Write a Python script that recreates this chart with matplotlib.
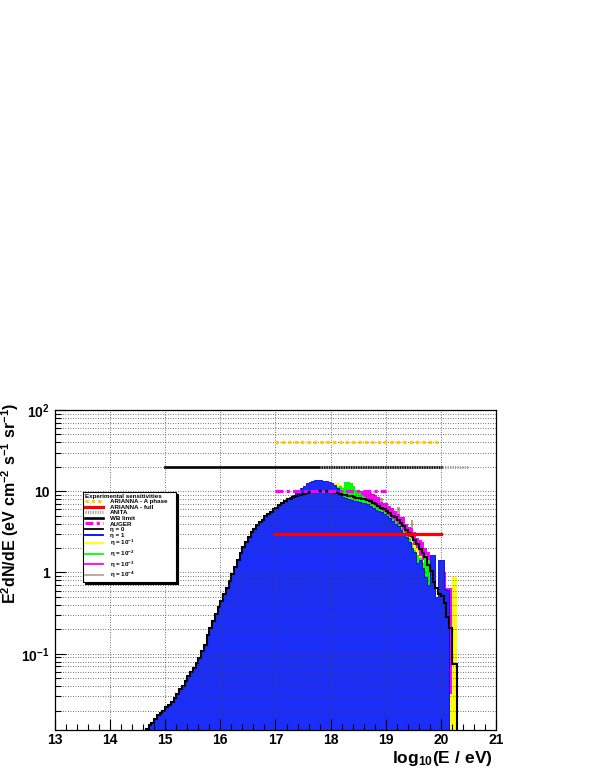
import numpy as np
import matplotlib.pyplot as plt
from matplotlib.lines import Line2D
from matplotlib.ticker import MultipleLocator, FixedLocator, LogLocator, NullFormatter

plt.rcParams['font.family'] = ['Liberation Sans', 'DejaVu Sans']
plt.rcParams['font.weight'] = 'bold'
plt.rcParams['mathtext.fontset'] = 'custom'
plt.rcParams['mathtext.rm'] = 'Liberation Sans:bold'
plt.rcParams['mathtext.bf'] = 'Liberation Sans:bold'
plt.rcParams['mathtext.it'] = 'Liberation Sans:bold'
plt.rcParams['mathtext.default'] = 'bf'

# histogram bins: width 0.05 in log10(E/eV)
bin_w = 0.05

# log10(E^2 dN/dE) per bin
# eta = 1 (blue), bins start at 14.65
eta1_start = 14.65
eta1_log = [
    -1.93, -1.88, -1.85, -1.80, -1.76, -1.73, -1.70, -1.66, -1.63, -1.59,
    -1.54, -1.49, -1.44, -1.40, -1.34, -1.28, -1.23, -1.18, -1.11, -1.05,
    -0.97, -0.89, -0.77, -0.68, -0.60, -0.51, -0.42, -0.35, -0.26, -0.19,
    -0.10, -0.02, 0.07, 0.15, 0.24, 0.31, 0.38, 0.44, 0.50, 0.54,
    0.58, 0.62, 0.65, 0.69, 0.72, 0.75, 0.78, 0.80, 0.83, 0.85,
    0.88, 0.90, 0.93, 0.96, 0.99, 1.01, 1.04, 1.07, 1.10, 1.12,
    1.13, 1.14, 1.14, 1.14, 1.13, 1.13, 1.12, 1.10, 1.08, 1.04,
    0.96, 0.93, 0.92, 0.90, 0.89, 0.88, 0.88, 0.87, 0.86, 0.85,
    0.84, 0.82, 0.80, 0.77, 0.76, 0.74, 0.72, 0.70, 0.67, 0.63,
    0.60, 0.57, 0.52, 0.47, 0.44, 0.38, 0.30, 0.25, 0.12, 0.15,
    0.05, -0.05, -0.15, 0.21, 0.21, -0.30, 0.15, 0.15, -0.20, -0.22,
]

# eta = 0 (black line), bins start at 14.65
eta0_start = 14.65
eta0_log = [
    -1.93, -1.88, -1.85, -1.80, -1.76, -1.73, -1.70, -1.66, -1.63, -1.59,
    -1.54, -1.49, -1.44, -1.40, -1.34, -1.28, -1.23, -1.18, -1.11, -1.05,
    -0.97, -0.89, -0.77, -0.68, -0.60, -0.51, -0.42, -0.35, -0.26, -0.19,
    -0.10, -0.02, 0.07, 0.15, 0.24, 0.31, 0.38, 0.44, 0.50, 0.54,
    0.58, 0.62, 0.65, 0.69, 0.72, 0.75, 0.78, 0.80, 0.83, 0.85,
    0.88, 0.90, 0.91, 0.93, 0.94, 0.95, 0.96, 0.97, 0.98, 0.99,
    0.99, 1.00, 1.00, 1.00, 1.00, 1.00, 0.99, 0.99, 0.98, 0.98,
    0.97, 0.96, 0.95, 0.94, 0.94, 0.93, 0.92, 0.92, 0.91, 0.90,
    0.89, 0.88, 0.86, 0.84, 0.82, 0.80, 0.78, 0.76, 0.73, 0.70,
    0.68, 0.65, 0.61, 0.57, 0.52, 0.49, 0.45, 0.40, 0.35, 0.29,
    0.24, 0.19, 0.09, 0.02, -0.12, -0.19, -0.26, -0.29, -0.38, -0.55,
    -0.68, -1.13, -1.13,
]

# eta = 1e-1 (yellow), bins start at 17.5
eta_m1_start = 17.5
eta_m1_log = [
    0.96, 0.97, 0.98,
    0.99, 1.00, 1.01, 1.02, 1.03, 1.05, 1.07, 1.09, 1.10, 1.10,
    1.08, 1.05, 1.02, 0.99, 0.96, 0.94, 0.92, 0.91, 0.90, 0.88,
    0.86, 0.85, 0.83, 0.81, 0.79, 0.76, 0.74, 0.72, 0.69, 0.66,
    0.63, 0.60, 0.56, 0.52, 0.48, 0.44, 0.42, 0.34, 0.30, 0.20,
    0.15, 0.00, -0.10, -0.20, -0.30, -0.30, -0.35, -0.40, -0.50, -0.60,
    -1.50, -0.06, -0.06,
]

# eta = 1e-2 (green), bins start at 17.5
eta_m2_start = 17.5
eta_m2_log = [
    0.95, 0.96, 0.97,
    0.98, 0.99, 1.00, 1.01, 1.02, 1.03, 1.04, 1.05, 1.05, 1.05,
    1.07, 1.04, 1.11, 1.12, 1.10, 1.06, 1.02, 0.99, 0.96, 0.93,
    0.90, 0.86, 0.84, 0.81, 0.79, 0.77, 0.74, 0.72, 0.69, 0.66,
    0.63, 0.60, 0.55, 0.51, 0.47, 0.43, 0.36, 0.28, 0.22, 0.18,
    0.12, 0.22, 0.15, -0.05, -0.20, -0.30, -0.30, -0.40, -0.60, -0.80,
]

# eta = 1e-3 (magenta), bins start at 17.5
eta_m3_start = 17.5
eta_m3_log = [
    0.94, 0.95, 0.96,
    0.97, 0.98, 0.99, 1.00, 1.01, 1.02, 1.03, 1.04, 1.05, 1.06,
    1.06, 1.05, 1.04, 1.03, 1.02, 1.01, 1.01, 1.00, 1.00, 0.99,
    0.99, 0.98, 0.97, 0.95, 0.93, 0.87, 0.86, 0.85, 0.82, 0.79,
    0.76, 0.72, 0.68, 0.68, 0.60, 0.56, 0.55, 0.50, 0.42, 0.40,
    0.38, 0.30, 0.25, 0.00, -0.30, -0.40, -0.30, 0.00, 0.00, -0.19,
    -0.19,
]

# eta = 1e-4 (tan), bins start at 17.5
eta_m4_start = 17.5
eta_m4_log = [
    0.93, 0.94, 0.95,
    0.96, 0.97, 0.98, 0.99, 1.00, 1.00, 1.00, 1.00, 1.00, 1.00,
    1.00, 0.99, 0.99, 0.98, 0.97, 0.96, 0.96, 0.95, 0.94, 0.93,
    0.92, 0.91, 0.90, 0.89, 0.88, 0.92, 0.86, 0.84, 0.80, 0.76,
    0.74, 0.81, 0.62, 0.58, 0.55, 0.50, 0.65, 0.35, 0.30, 0.25,
    0.20, 0.10, 0.00, -0.10, -0.20, -0.30, -0.40, -0.50,
]

# experimental sensitivities (x range in log10(E/eV), level)
arianna_a_x = [17.0, 20.0]
arianna_a_y = [40.0, 40.0]
arianna_full_x = [17.0, 20.0]
arianna_full_y = [3.0, 3.0]
anita_x = [17.8, 20.5]
anita_y = [20.0, 20.0]
wb_x = [15.0, 20.0]
wb_y = [20.0, 20.0]
auger_x = [17.0, 19.0]
auger_y = [10.0, 10.0]

c_yellow = '#ffff00'
c_green = '#00ff00'
c_magenta = '#ff00ff'
c_tan = '#b4a596'
c_blue = '#1a2ef8'


def edges(start, n):
    return start + bin_w * np.arange(n + 1)


fig = plt.figure(figsize=(5.95, 7.7), dpi=100)
ax = fig.add_axes([0.0924, 0.0519, 0.7412, 0.4156])

base = 1e-4
ax.stairs(10 ** np.array(eta_m4_log), edges(eta_m4_start, len(eta_m4_log)),
          fill=True, baseline=base, color=c_tan, zorder=1.0)
ax.stairs(10 ** np.array(eta_m3_log), edges(eta_m3_start, len(eta_m3_log)),
          fill=True, baseline=base, color=c_magenta, zorder=1.1)
ax.stairs(10 ** np.array(eta_m1_log), edges(eta_m1_start, len(eta_m1_log)),
          fill=True, baseline=base, color=c_yellow, zorder=1.2)
ax.stairs(10 ** np.array(eta_m2_log), edges(eta_m2_start, len(eta_m2_log)),
          fill=True, baseline=base, color=c_green, zorder=1.3)
ax.stairs(10 ** np.array(eta1_log), edges(eta1_start, len(eta1_log)),
          fill=True, baseline=base, facecolor=c_blue, edgecolor='#0000ee',
          linewidth=0.6, zorder=1.4)
ax.stairs(10 ** np.array(eta0_log), edges(eta0_start, len(eta0_log)),
          fill=False, baseline=base, color='black', linewidth=1.5, zorder=2.0)

# sensitivity curves
ax.plot(arianna_a_x, arianna_a_y, color='#ffcc00', lw=2.3, ls=(0, (1, 1)), zorder=3)
ax.plot(wb_x, wb_y, color='black', lw=1.9, zorder=3)
ax.plot(anita_x, anita_y, color='#9a9a9a', lw=2.2, ls=(0, (0.35, 0.45)), zorder=3.1)
ax.plot(auger_x, auger_y, color=c_magenta, lw=2.3, ls=(0, (2.5, 1, 1, 1)), zorder=3)
ax.plot(arianna_full_x, arianna_full_y, color='#ff0000', lw=2.3, zorder=3)

ax.set_xlim(13, 21)
ax.set_yscale('log')
ax.set_ylim(0.0115, 100)

ax.xaxis.set_major_locator(MultipleLocator(1))
ax.xaxis.set_minor_locator(MultipleLocator(0.2))
ax.yaxis.set_major_locator(FixedLocator([0.1, 1, 10, 100]))
ax.yaxis.set_minor_locator(LogLocator(base=10, subs=np.arange(2, 10)))
ax.yaxis.set_minor_formatter(NullFormatter())
ax.set_yticklabels([r'$10^{-1}$', '1', '10', r'$10^{2}$'])
ax.set_xticks(range(13, 22))
ax.set_xticklabels([str(v) for v in range(13, 22)])

ax.tick_params(which='both', direction='in', top=False, right=False,
               labelsize=10, width=0.8)
ax.tick_params(which='major', length=8)
ax.tick_params(axis='x', which='major', pad=2)
ax.tick_params(axis='y', which='major', pad=4)
ax.tick_params(which='minor', length=4)

gkw = dict(color='#444444', linestyle=(0, (1, 2)), linewidth=0.6)
ax.grid(True, which='major', axis='x', **gkw)
ax.grid(True, which='both', axis='y', **gkw)
ax.set_axisbelow(False)
for gl in ax.get_xgridlines() + ax.get_ygridlines():
    gl.set_zorder(2.5)
for sp in ax.spines.values():
    sp.set_linewidth(0.9)
    sp.set_zorder(4)

fig.text(0.017, 1 - 403 / 770, r'$E^{2}dN/dE\ (eV\ cm^{-2}\ s^{-1}\ sr^{-1})$',
         rotation=90, ha='center', va='top', fontsize=11.5)
fig.text(493 / 595, 1 - 759 / 770, r'$log_{10}(E\ /\ eV)$',
         ha='right', va='center', fontsize=12.5)

handles = [
    Line2D([], [], color='#ffcc00', lw=2.3, ls=(0, (1, 1))),
    Line2D([], [], color='#ff0000', lw=2.3),
    Line2D([], [], color='#9a9a9a', lw=2.2, ls=(0, (0.35, 0.45))),
    Line2D([], [], color='black', lw=1.9),
    Line2D([], [], color=c_magenta, lw=2.3, ls=(0, (2.5, 1, 1, 1))),
    Line2D([], [], color='black', lw=1.3),
    Line2D([], [], color='#0000ff', lw=1.3),
    Line2D([], [], color=c_yellow, lw=1.3),
    Line2D([], [], color=c_green, lw=1.3),
    Line2D([], [], color=c_magenta, lw=1.3),
    Line2D([], [], color=c_tan, lw=1.3),
]
labels = ['ARIANNA - A phase', 'ARIANNA - full', 'ANITA', 'WB limit', 'AUGER',
          'η = 0', 'η = 1', r'η = 10$^{-1}$', r'η = 10$^{-2}$',
          r'η = 10$^{-3}$', r'η = 10$^{-4}$']
leg = ax.legend(handles, labels, loc='upper left',
                bbox_to_anchor=(0.0635, 0.744, 0.211, 0.0), mode='expand',
                title='Experimental sensitivities', title_fontsize=4.5,
                alignment='left', fontsize=4.5, handlelength=3.0,
                handletextpad=1.0, labelspacing=0.04, borderpad=0.25,
                borderaxespad=0, fancybox=False, framealpha=1,
                edgecolor='black',
                shadow={'facecolor': 'black', 'edgecolor': 'black',
                        'alpha': 1, 'ox': 1.5, 'oy': -1.5})
leg.get_frame().set_linewidth(0.8)
leg.set_zorder(5)

fig.savefig('out.png', dpi=100)
